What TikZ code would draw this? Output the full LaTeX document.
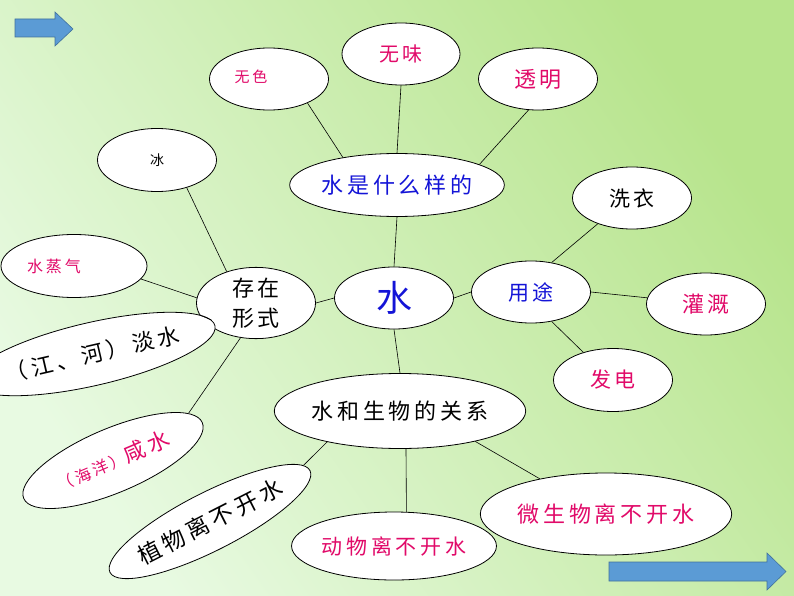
\documentclass[tikz,border=0pt]{standalone}
\usepackage{fontspec}
\setmainfont{Noto Sans CJK SC}[LetterSpace=18]
\usetikzlibrary{shapes.geometric}

\definecolor{pinktext}{RGB}{225,10,105}
\definecolor{bluetext}{RGB}{20,20,215}
\definecolor{arrowfill}{RGB}{91,155,213}
\definecolor{arrowline}{RGB}{65,113,156}
\definecolor{bgdark}{RGB}{183,228,140}
\definecolor{bglight}{RGB}{232,250,226}

\tikzset{
  bubble/.style={ellipse, draw=black, fill=white, line width=0.8pt, inner sep=0pt,
    minimum width=119, minimum height=62},
  fsz/.style={font=\fontsize{#1}{#1}\selectfont},
  link/.style={draw=black, line width=0.6pt},
  blockarrow/.style={draw=arrowline, fill=arrowfill, line width=0.6pt}
}

\begin{document}
\begin{tikzpicture}[x=1pt, y=-1pt]
% Background
\shade[top color=bgdark, bottom color=bglight, shading angle=-55] (0,0) rectangle (794,596);
\useasboundingbox (0,0) rectangle (794,596);
% Arrows
\draw[blockarrow] (15,19) -- (55,19) -- (55,12) -- (73,29) -- (55,46) -- (55,37) -- (15,37) -- cycle;
\draw[blockarrow] (609,562) -- (767,562) -- (767,553) -- (786,571.5) -- (767,590) -- (767,581) -- (609,581) -- cycle;
% Centre
\node[bubble, text=bluetext, fsz=36] (water) at (394,298) {水};
% What water is like
\node[bubble, minimum width=188, minimum height=63, text=bluetext, fsz=22] (shape) at (397,185) {水是什么样的};
\node[bubble, text=pinktext, fsz=15] (colorless) at (269,79) {\raisebox{6pt}{无色}\hspace*{36pt}};
\node[bubble, minimum width=118, text=pinktext, fsz=20] (odorless) at (401,54) {无味};
\node[bubble, text=pinktext, fsz=22] (clear) at (538,79) {透明};
% Forms
\node[bubble, minimum height=63, align=center, font=\fontsize{22}{30}\selectfont] (exist) at (256,303) {存在\\形式};
\node[bubble, minimum height=63, fsz=14] (ice) at (157,160) {冰};
\node[bubble, minimum width=146, minimum height=63, text=pinktext, fsz=16] (vapour) at (74,266) {水蒸气\hspace*{40pt}};
\node[bubble, minimum width=184, minimum height=63, rotate=13, fsz=22] (fresh) at (92.5,354) {（江、河）淡水};
\node[bubble, minimum width=194, minimum height=64, rotate=23, text=pinktext, fsz=22] (salt) at (113,460.5) {{\fontsize{16}{16}\selectfont（海洋）}咸水};
% Uses
\node[bubble, text=bluetext, fsz=21] (use) at (531,292) {用途};
\node[bubble, fsz=21] (wash) at (632,198) {洗衣};
\node[bubble, text=pinktext, fsz=22] (irrigate) at (706,304) {灌溉};
\node[bubble, minimum height=63, text=pinktext, fsz=21] (power) at (613,380) {发电};
% Water and living things
\node[bubble, minimum width=245, minimum height=75, fsz=22] (life) at (400,411) {水和生物的关系};
\node[bubble, minimum width=192, minimum height=58, rotate=27, fsz=23] (plant) at (210,521.5) {植物离不开水};
\node[bubble, minimum width=193, minimum height=68, text=pinktext, fsz=21] (animal) at (394,546) {动物离不开水};
\node[bubble, minimum width=231, minimum height=82, text=pinktext, fsz=22] (microbe) at (606,514) {微生物离不开水};
% Links
\draw[link] (colorless.-32) -- (shape.153);
\draw[link] (odorless.south) -- (shape.north);
\draw[link] (clear.-107) -- (shape.14);
\draw[link] (shape.south) -- (water.north);
\draw[link] (water.west) -- (exist.east);
\draw[link] (water.east) -- (use.west);
\draw[link] (water.south) -- (life.north);
\draw[link] (ice.-43) -- (exist.133);
\draw[link] (vapour.-11) -- (exist.175);
\draw[link] (fresh.3) -- (exist.192);
\draw[link] (salt.9) -- (exist.246);
\draw[link] (use.55) -- (wash.217);
\draw[link] (use.east) -- (irrigate.174);
\draw[link] (use.-55) -- (power.137);
\draw[link] (life.203) -- (plant.4);
\draw[link] (life.-81) -- (animal.70);
\draw[link] (life.-22) -- (microbe.152);
\end{tikzpicture}
\end{document}
